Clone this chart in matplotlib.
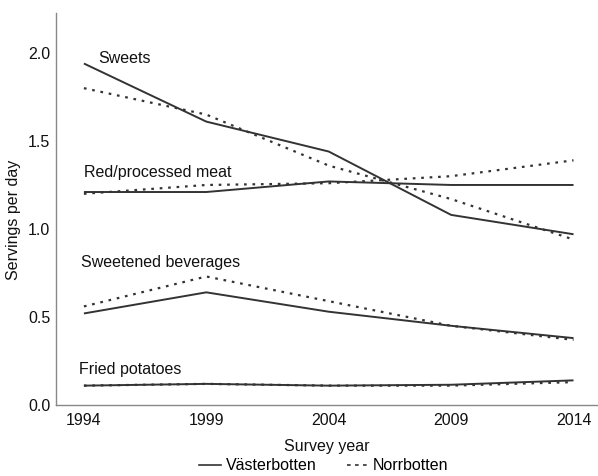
import matplotlib
matplotlib.use("Agg")
import matplotlib.pyplot as plt
from matplotlib.lines import Line2D

plt.rcParams['font.family'] = ['Liberation Sans', 'DejaVu Sans']

years = [1994, 1999, 2004, 2009, 2014]
sweets_v = [1.94, 1.61, 1.44, 1.08, 0.97]
sweets_n = [1.80, 1.65, 1.36, 1.17, 0.94]
meat_v = [1.21, 1.21, 1.27, 1.25, 1.25]
meat_n = [1.20, 1.25, 1.26, 1.30, 1.39]
bev_v = [0.52, 0.64, 0.53, 0.45, 0.38]
bev_n = [0.56, 0.73, 0.59, 0.45, 0.37]
pot_v = [0.11, 0.12, 0.11, 0.115, 0.14]
pot_n = [0.11, 0.12, 0.11, 0.11, 0.13]

labels = ["Sweets", "Red/processed meat", "Sweetened beverages", "Fried potatoes"]
label_x = [1994.6, 1994.0, 1993.9, 1993.8]
label_y = [1.97, 1.32, 0.81, 0.20]

W, H = 598, 476
fig = plt.figure(figsize=(W/100, H/100), dpi=100)
ax = fig.add_axes([56/W, 71/H, 1 - 56/W, (405-13)/H])

col = '#333333'
dot = (0, (1.2, 2.6))
for v, n in [(sweets_v, sweets_n), (meat_v, meat_n), (bev_v, bev_n), (pot_v, pot_n)]:
    ax.plot(years, v, color=col, lw=1.4, solid_capstyle='butt')
    ax.plot(years, n, color=col, lw=1.6, linestyle=dot)

fs = 11.5
for t, x, y in zip(labels, label_x, label_y):
    ax.text(x, y, t, fontsize=fs, ha='left', va='center', color='#111111')

ax.set_xlim(1992.86, 2015.0)
ax.set_ylim(0, 2.227)
ax.set_xticks(years)
ax.set_yticks([0.0, 0.5, 1.0, 1.5, 2.0])
ax.set_yticklabels(['0.0', '0.5', '1.0', '1.5', '2.0'])
ax.tick_params(axis='y', length=0, labelsize=fs, pad=4, colors='#111111')
ax.tick_params(axis='x', length=0, labelsize=fs, pad=6, colors='#111111')
for s in ['top', 'right']:
    ax.spines[s].set_visible(False)
for s in ['left', 'bottom']:
    ax.spines[s].set_color('#888888')
    ax.spines[s].set_linewidth(1.0)

fig.text(14/W, 1 - 220/H, 'Servings per day', rotation=90, fontsize=fs,
         ha='center', va='center', color='#111111')
fig.text(327/W, 1 - 446/H, 'Survey year', fontsize=fs,
         ha='center', va='center', color='#111111')

handles = [Line2D([], [], color=col, lw=1.2),
           Line2D([], [], color=col, lw=1.2, linestyle=(0, (2.2, 2.6)))]
fig.legend(handles, ['Västerbotten', 'Norrbotten'], loc='center', bbox_to_anchor=(324/W, 1 - 466/H),
           ncol=2, frameon=False, fontsize=fs, handlelength=1.35, handletextpad=0.3,
           columnspacing=1.9, borderpad=0, borderaxespad=0)

fig.savefig('out.png', dpi=100)
